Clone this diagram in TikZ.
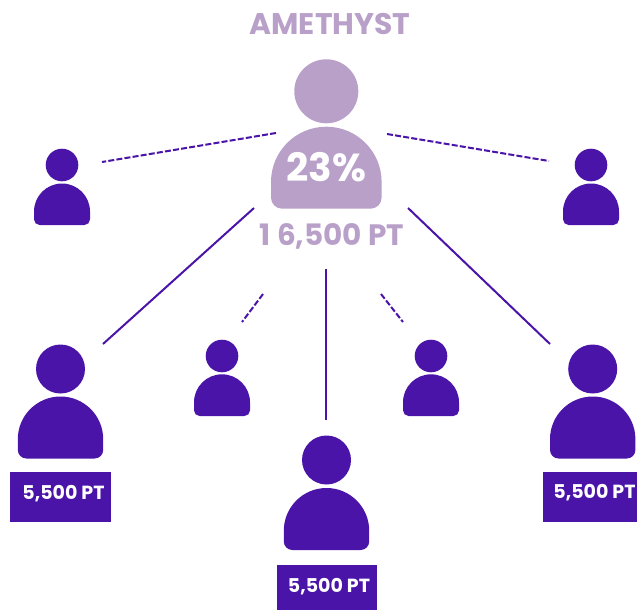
\documentclass[tikz,border=0pt]{standalone}
\usepackage{fontspec}
\setmainfont{Poppins}
\definecolor{deep}{HTML}{4A14A8}
\definecolor{lilac}{HTML}{B9A0C9}
\newcommand{\person}[7]{% colour, cx, headcy, r, halfwidth, bodytop, bodybottom
  \fill[#1] (#2,-#3) circle[radius=#4];
  \fill[#1] (#2-#5,-#6-#5) arc[start angle=180,end angle=0,radius=#5]
    -- (#2+#5,-#7+.2*#5) arc[start angle=0,end angle=-90,radius=.2*#5]
    -- (#2-.8*#5,-#7) arc[start angle=270,end angle=180,radius=.2*#5] -- cycle;
}
\tikzset{
  x=1pt,y=1pt,
  solidline/.style={draw=deep,line width=2pt},
  dashline/.style={draw=deep,line width=2pt,dash pattern=on 6pt off 2.2pt},
  ptbox/.style={fill=deep},
  pttext/.style={text=white,font=\bfseries\fontsize{19}{22}\selectfont,inner sep=0pt},
}
\begin{document}
\begin{tikzpicture}
\useasboundingbox (0,0) rectangle (637,-610);
% people
\person{lilac}{326.3}{91.3}{32}{55.3}{126.7}{208.7}
\person{deep}{62}{165}{16.3}{28}{183.5}{225}
\person{deep}{591}{165}{16.3}{28}{183.5}{225}
\person{deep}{222}{356}{16.3}{28}{374.3}{416}
\person{deep}{431}{356}{16.3}{28}{374.3}{416}
\person{deep}{60.5}{369}{24.5}{42.7}{396.5}{458.5}
\person{deep}{592.7}{369}{24.5}{42.7}{396.5}{458.5}
\person{deep}{326.5}{460}{24.5}{42.7}{488}{550}
% boxes
\node[ptbox,minimum width=100.2pt,minimum height=50pt,inner sep=0pt] (boxl) at (60.4,-496.5) {};
\node[ptbox,minimum width=100pt,minimum height=45pt,inner sep=0pt] (boxc) at (326.7,-587.5) {};
\node[ptbox,minimum width=94.5pt,minimum height=50pt,inner sep=0pt] (boxr) at (589.75,-496.5) {};
% texts
\node[pttext] (tl) at (63.5,-493.5) {5,500 PT};
\node[pttext] (tc) at (329,-586.5) {5,500 PT};
\node[pttext] (tr) at (594.5,-492.5) {5,500 PT};
\node[text=lilac,font=\bfseries\fontsize{29.8}{32}\selectfont,inner sep=0pt] (title) at (330,-24) {AMETHYST};
\node[text=white,font=\bfseries\fontsize{39}{42}\selectfont,inner sep=0pt] (pct) at (326.5,-167) {23\%};
\node[text=lilac,font=\bfseries\fontsize{29.5}{32}\selectfont,inner sep=0pt] (total) at (332,-236) {1\kern6pt 6,500 PT};
% connectors
\coordinate (a1) at (276,-133); \coordinate (a2) at (102,-162);
\coordinate (b1) at (387,-134); \coordinate (b2) at (549,-161);
\coordinate (c1) at (254,-208); \coordinate (c2) at (103,-344);
\coordinate (d1) at (326,-269); \coordinate (d2) at (326,-420);
\coordinate (e1) at (408,-208); \coordinate (e2) at (550,-344);
\coordinate (f1) at (263,-294); \coordinate (f2) at (242,-322);
\coordinate (g1) at (381,-294); \coordinate (g2) at (403,-322);
\draw[dashline] (a1) -- (a2);
\draw[dashline] (b1) -- (b2);
\draw[solidline] (c1) -- (c2);
\draw[solidline] (d1) -- (d2);
\draw[solidline] (e1) -- (e2);
\draw[dashline] (f1) -- (f2);
\draw[dashline] (g1) -- (g2);
\end{tikzpicture}
\end{document}
